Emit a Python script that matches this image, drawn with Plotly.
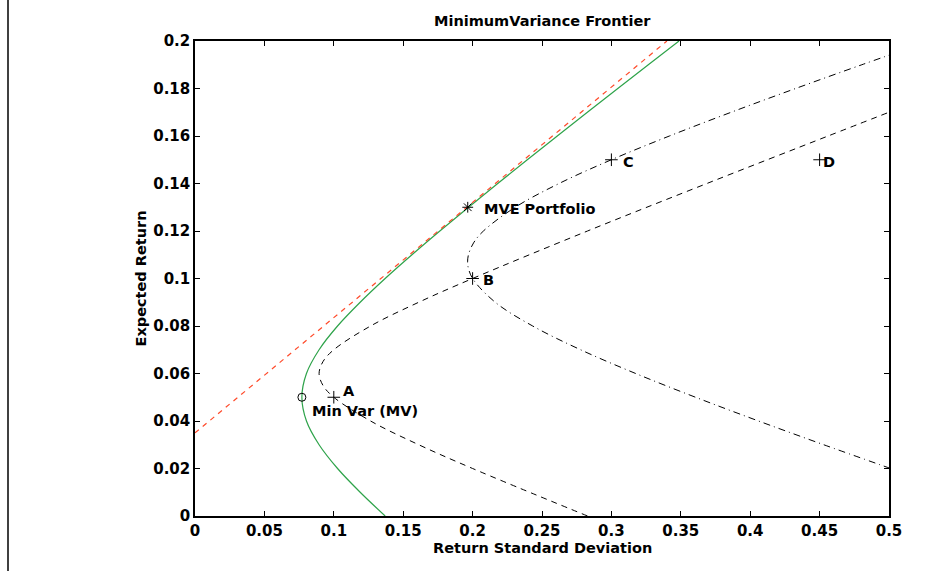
import plotly.graph_objects as go

# ---- data ----
# full minimum-variance frontier (green): (sigma, mu)
front_mu = [0.0, 0.01, 0.02, 0.03, 0.04, 0.05, 0.06, 0.07, 0.08, 0.09, 0.10,
            0.11, 0.12, 0.13, 0.14, 0.15, 0.16, 0.17, 0.18, 0.19, 0.20]
front_sd = [0.137, 0.119, 0.1027, 0.0894, 0.0803, 0.077, 0.0803, 0.0894, 0.1027, 0.119, 0.137,
            0.1563, 0.1764, 0.1971, 0.2181, 0.2394, 0.261, 0.2827, 0.3046, 0.3266, 0.3487]

# capital market (tangency) line, red dashed
cml_sd = [0.0, 0.34]
cml_mu = [0.035, 0.2]

# frontier through A and B (black dashed)
ab_mu = [0.0, 0.02, 0.03, 0.04, 0.05, 0.055, 0.06, 0.065, 0.07, 0.08, 0.09, 0.10, 0.12, 0.14, 0.16, 0.17]
ab_sd = [0.2828, 0.2, 0.1612, 0.1265, 0.1, 0.0922, 0.0894, 0.0922, 0.1, 0.1265, 0.1612, 0.2, 0.2828, 0.3688, 0.4561, 0.5]

# frontier through B and C (black dash-dot)
bc_mu = [0.02, 0.03, 0.04, 0.05, 0.06, 0.07, 0.08, 0.09, 0.10, 0.105, 0.107, 0.11, 0.115, 0.12,
         0.13, 0.14, 0.15, 0.16, 0.17, 0.18, 0.19, 0.195]
bc_sd = [0.5012, 0.453, 0.406, 0.3606, 0.3175, 0.2778, 0.2433, 0.2163, 0.2, 0.1967, 0.1964, 0.197, 0.2007, 0.2078,
         0.2307, 0.2623, 0.3, 0.3418, 0.3863, 0.4327, 0.4804, 0.5047]

# individual assets
asset_sd = [0.1, 0.2, 0.3, 0.45]
asset_mu = [0.05, 0.10, 0.15, 0.15]
asset_lbl = ["A", "B", "C", "D"]
asset_lbl_sd = [0.105, 0.206, 0.307, 0.451]
asset_lbl_mu = [0.0525, 0.0995, 0.149, 0.149]

mv_sd, mv_mu = [0.077], [0.05]
mve_sd, mve_mu = [0.1965], [0.130]
special_lbl = ["Min Var (MV)", "MVE Portfolio"]
special_lbl_sd = [0.083, 0.207]
special_lbl_mu = [0.0443, 0.1293]

x_ticks = [0, 0.05, 0.1, 0.15, 0.2, 0.25, 0.3, 0.35, 0.4, 0.45, 0.5]
x_tick_text = ["0", "0.05", "0.1", "0.15", "0.2", "0.25", "0.3", "0.35", "0.4", "0.45", "0.5"]
y_ticks = [0, 0.02, 0.04, 0.06, 0.08, 0.1, 0.12, 0.14, 0.16, 0.18, 0.2]
y_tick_text = ["0", "0.02", "0.04", "0.06", "0.08", "0.1", "0.12", "0.14", "0.16", "0.18", "0.2"]

FONT = "DejaVu Sans"
fnt = dict(family=FONT, size=14.5, color="black", weight="bold")
tick_fnt = dict(family=FONT, size=15, color="black", weight="bold")

fig = go.Figure()
fig.add_trace(go.Scatter(x=ab_sd, y=ab_mu, mode="lines", line_shape="spline",
                         line=dict(color="black", width=1, dash="6px,5px")))
fig.add_trace(go.Scatter(x=bc_sd, y=bc_mu, mode="lines", line_shape="spline",
                         line=dict(color="black", width=1, dash="7px,4px,1px,4px")))
fig.add_trace(go.Scatter(x=front_sd, y=front_mu, mode="lines", line_shape="spline",
                         line=dict(color="#2ea34a", width=1.2)))
fig.add_trace(go.Scatter(x=cml_sd, y=cml_mu, mode="lines",
                         line=dict(color="#ff4a2a", width=1.2, dash="5px,5px")))
fig.add_trace(go.Scatter(x=asset_sd, y=asset_mu, mode="markers",
                         marker=dict(symbol="cross-thin", size=9, line=dict(color="black", width=1))))
fig.add_trace(go.Scatter(x=mv_sd, y=mv_mu, mode="markers",
                         marker=dict(symbol="circle-open", size=8, color="black", line=dict(width=1))))
fig.add_trace(go.Scatter(x=mve_sd, y=mve_mu, mode="markers",
                         marker=dict(symbol="asterisk-open", size=9, color="black", line=dict(color="black", width=1))))

for t, xx, yy in zip(asset_lbl + special_lbl, asset_lbl_sd + special_lbl_sd, asset_lbl_mu + special_lbl_mu):
    fig.add_annotation(x=xx, y=yy, text=t, showarrow=False, xanchor="left", yanchor="middle",
                       font=fnt)

# titles
fig.add_annotation(xref="paper", yref="paper", x=0.5, y=(516 - 21) / 475, text="MinimumVariance Frontier",
                   showarrow=False, xanchor="center", yanchor="middle", font=fnt)
fig.add_annotation(xref="paper", yref="paper", x=0.5, y=(516 - 548) / 475, text="Return Standard Deviation",
                   showarrow=False, xanchor="center", yanchor="middle", font=fnt)
fig.add_annotation(xref="paper", yref="paper", x=(140 - 195) / 694, y=0.5, text="Expected Return",
                   showarrow=False, xanchor="center", yanchor="middle", textangle=-90, font=fnt)

# page border line on the far left
fig.add_shape(type="line", xref="paper", yref="paper", x0=(8 - 195) / 694, x1=(8 - 195) / 694,
              y0=(516 - 0) / 475, y1=(516 - 571) / 475, line=dict(color="black", width=1.5))

axis_common = dict(showgrid=False, zeroline=False, showline=True, linecolor="black", linewidth=1.5,
                   mirror="ticks", ticks="inside", ticklen=5, tickwidth=1, tickcolor="black",
                   tickfont=tick_fnt)
fig.update_xaxes(range=[0, 0.5], tickvals=x_ticks, ticktext=x_tick_text, **axis_common)
fig.update_yaxes(range=[0, 0.2], tickvals=y_ticks, ticktext=y_tick_text, **axis_common)

fig.update_layout(width=952, height=571, margin=dict(l=195, r=63, t=41, b=55),
                  paper_bgcolor="white", plot_bgcolor="white", showlegend=False,
                  font=fnt)
fig.write_html("out.html")
